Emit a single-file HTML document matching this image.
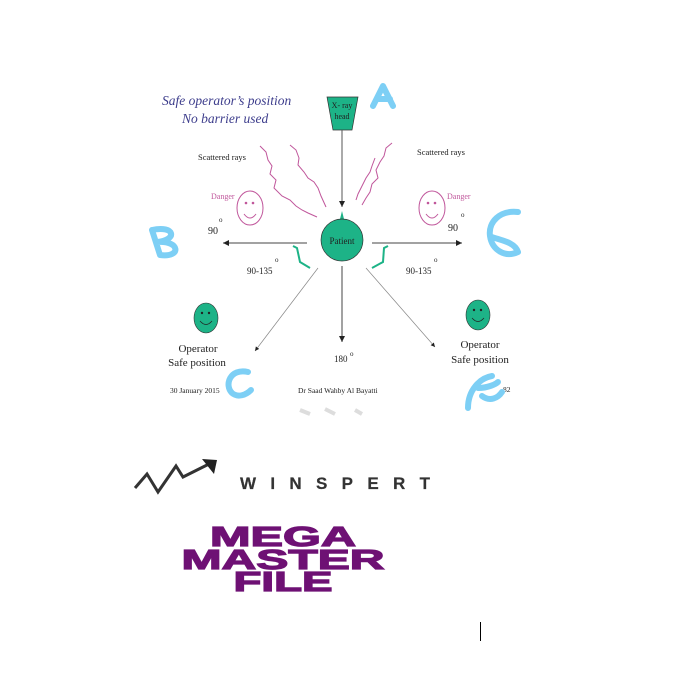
<!DOCTYPE html>
<html><head><style>
html,body{margin:0;padding:0;background:#fff;}
svg{display:block;}
</style></head><body>
<svg width="679" height="691" viewBox="0 0 679 691" xmlns="http://www.w3.org/2000/svg" font-family="Liberation Serif, serif">
<defs>
<marker id="ah" markerWidth="8" markerHeight="8" refX="6" refY="3" orient="auto"><path d="M0,0 L6,3 L0,6 z" fill="#222"/></marker>
</defs>
<text x="162" y="105" font-size="13.5" font-style="italic" fill="#3d3d8c">Safe operator’s position</text>
<text x="182" y="123" font-size="13.5" font-style="italic" fill="#3d3d8c">No barrier used</text>
<polygon points="327,97 358,97 352,130 333,130" fill="#1db387" stroke="#333" stroke-width="0.7"/>
<text x="342" y="108" font-size="8" text-anchor="middle" fill="#222">X- ray</text>
<text x="342" y="119" font-size="8" text-anchor="middle" fill="#222">head</text>
<line x1="342" y1="130" x2="342" y2="207" stroke="#555" stroke-width="1" marker-end="url(#ah)"/>
<path d="M340,219 L342,211 L344,219 z" fill="#1db387"/>
<circle cx="342" cy="240" r="21" fill="#1db387" stroke="#333" stroke-width="0.7"/>
<text x="342" y="244" font-size="9" text-anchor="middle" fill="#222">Patient</text>
<line x1="307" y1="243" x2="223" y2="243" stroke="#444" stroke-width="1" marker-end="url(#ah)"/>
<line x1="372" y1="243" x2="462" y2="243" stroke="#444" stroke-width="1" marker-end="url(#ah)"/>
<line x1="342" y1="266" x2="342" y2="342" stroke="#444" stroke-width="1" marker-end="url(#ah)"/>
<line x1="318" y1="268" x2="255" y2="351" stroke="#888" stroke-width="0.7" marker-end="url(#ah)"/>
<line x1="366" y1="268" x2="435" y2="347" stroke="#888" stroke-width="0.7" marker-end="url(#ah)"/>
<path d="M293,246 L297,248 L300,262 L310,268" fill="none" stroke="#1db387" stroke-width="2"/>
<path d="M388,246 L384,248 L383,262 L372,268" fill="none" stroke="#1db387" stroke-width="2"/>
<g fill="none" stroke="#c0569b" stroke-width="1">
<path d="M260,146 L266,152 L268,160 L272,166 L270,174 L276,180 L274,188 L282,196 L290,200 L296,206 L302,210 L308,213 L317,217"/>
<path d="M290,145 L296,150 L299,158 L298,165 L304,172 L308,178 L314,182 L318,188 L321,196 L326,207"/>
<path d="M392,143 L386,148 L384,156 L380,162 L376,170 L378,178 L372,184 L370,192 L366,198 L362,205"/>
<path d="M375,158 L372,166 L370,172 L366,178 L362,186 L358,194 L356,200"/>
<ellipse cx="250" cy="208" rx="13" ry="17"/>
<ellipse cx="432" cy="208" rx="13" ry="17"/>
<path d="M244,214 Q250,222 256,214"/><path d="M426,214 Q432,222 438,214"/>
</g>
<g fill="#c0569b"><circle cx="246" cy="203" r="1.3"/><circle cx="253" cy="203" r="1.3"/><circle cx="428" cy="203" r="1.3"/><circle cx="435" cy="203" r="1.3"/></g>
<text x="198" y="160" font-size="8.5" fill="#222">Scattered rays</text>
<text x="417" y="155" font-size="8.5" fill="#222">Scattered rays</text>
<text x="211" y="199" font-size="8" fill="#c0569b">Danger</text>
<text x="447" y="199" font-size="8" fill="#c0569b">Danger</text>
<text x="208" y="234" font-size="10" fill="#222">90</text><text x="219" y="222" font-size="7" fill="#222">o</text>
<text x="448" y="231" font-size="10" fill="#222">90</text><text x="461" y="217" font-size="7" fill="#222">o</text>
<text x="247" y="274" font-size="9" fill="#222">90-135</text><text x="275" y="262" font-size="7" fill="#222">o</text>
<text x="406" y="274" font-size="9" fill="#222">90-135</text><text x="434" y="262" font-size="7" fill="#222">o</text>
<ellipse cx="206" cy="318" rx="12" ry="15" fill="#1db387" stroke="#333" stroke-width="0.6"/>
<ellipse cx="478" cy="315" rx="12" ry="15" fill="#1db387" stroke="#333" stroke-width="0.6"/>
<g fill="#222"><circle cx="202" cy="313" r="1.2"/><circle cx="209" cy="313" r="1.2"/><circle cx="474" cy="310" r="1.2"/><circle cx="481" cy="310" r="1.2"/></g>
<path d="M200,321 Q206,328 212,321" fill="none" stroke="#222" stroke-width="0.7"/>
<path d="M472,318 Q478,325 484,318" fill="none" stroke="#222" stroke-width="0.7"/>
<text x="198" y="352" font-size="11" text-anchor="middle" fill="#222">Operator</text>
<text x="197" y="366" font-size="11" text-anchor="middle" fill="#222">Safe position</text>
<text x="480" y="348" font-size="11" text-anchor="middle" fill="#222">Operator</text>
<text x="480" y="363" font-size="11" text-anchor="middle" fill="#222">Safe position</text>
<text x="334" y="362" font-size="9" fill="#222">180</text><text x="350" y="356" font-size="7" fill="#222">o</text>
<text x="170" y="393" font-size="7.5" fill="#222">30 January 2015</text>
<text x="298" y="393" font-size="7.5" fill="#222">Dr Saad Wahby Al Bayatti</text>
<text x="503" y="392" font-size="7.5" fill="#222">82</text>
<g fill="none" stroke="#7dcff5" stroke-width="6" stroke-linecap="round" stroke-linejoin="round">
<path d="M373,106 L383,86 L393,106 M377,99 L390,99"/>
<path d="M152,230 L160,255 M152,230 C175,225 178,240 157,242 C180,240 182,258 160,255"/>
<path d="M518,212 C500,210 488,222 490,236 C492,250 505,258 518,252 C515,242 500,240 492,237"/>
<path d="M248,372 C230,368 224,385 232,393 C238,398 246,395 251,390"/>
<path d="M468,408 C468,390 480,378 492,376 M478,388 C488,388 496,384 498,382 M482,396 C490,402 498,398 502,392"/>
</g>
<g stroke="#ddd" stroke-width="4"><line x1="300" y1="410" x2="310" y2="414"/><line x1="325" y1="409" x2="335" y2="414"/><line x1="355" y1="410" x2="362" y2="414"/></g>
<path d="M135,488 L147,474 L158,492 L176,466 L183,477 L209,464" fill="none" stroke="#333" stroke-width="3"/>
<path d="M202,459 L217,460 L214,474 z" fill="#222"/>
<text x="240" y="489" font-family="Liberation Sans, sans-serif" font-size="17" font-weight="bold" textLength="190" lengthAdjust="spacing" fill="#333" stroke="#333" stroke-width="0.2">WINSPERT</text>
<g font-family="Liberation Sans, sans-serif" font-weight="bold" fill="#6e1174" stroke="#6e1174" stroke-width="1.2" text-anchor="middle">
<text x="283" y="546" font-size="28" textLength="146" lengthAdjust="spacingAndGlyphs">MEGA</text>
<text x="283" y="569" font-size="28" textLength="203" lengthAdjust="spacingAndGlyphs">MASTER</text>
<text x="283" y="591" font-size="28" textLength="99" lengthAdjust="spacingAndGlyphs">FILE</text>
</g>
<line x1="480.5" y1="622" x2="480.5" y2="641" stroke="#000" stroke-width="1"/>
</svg>
</body></html>
